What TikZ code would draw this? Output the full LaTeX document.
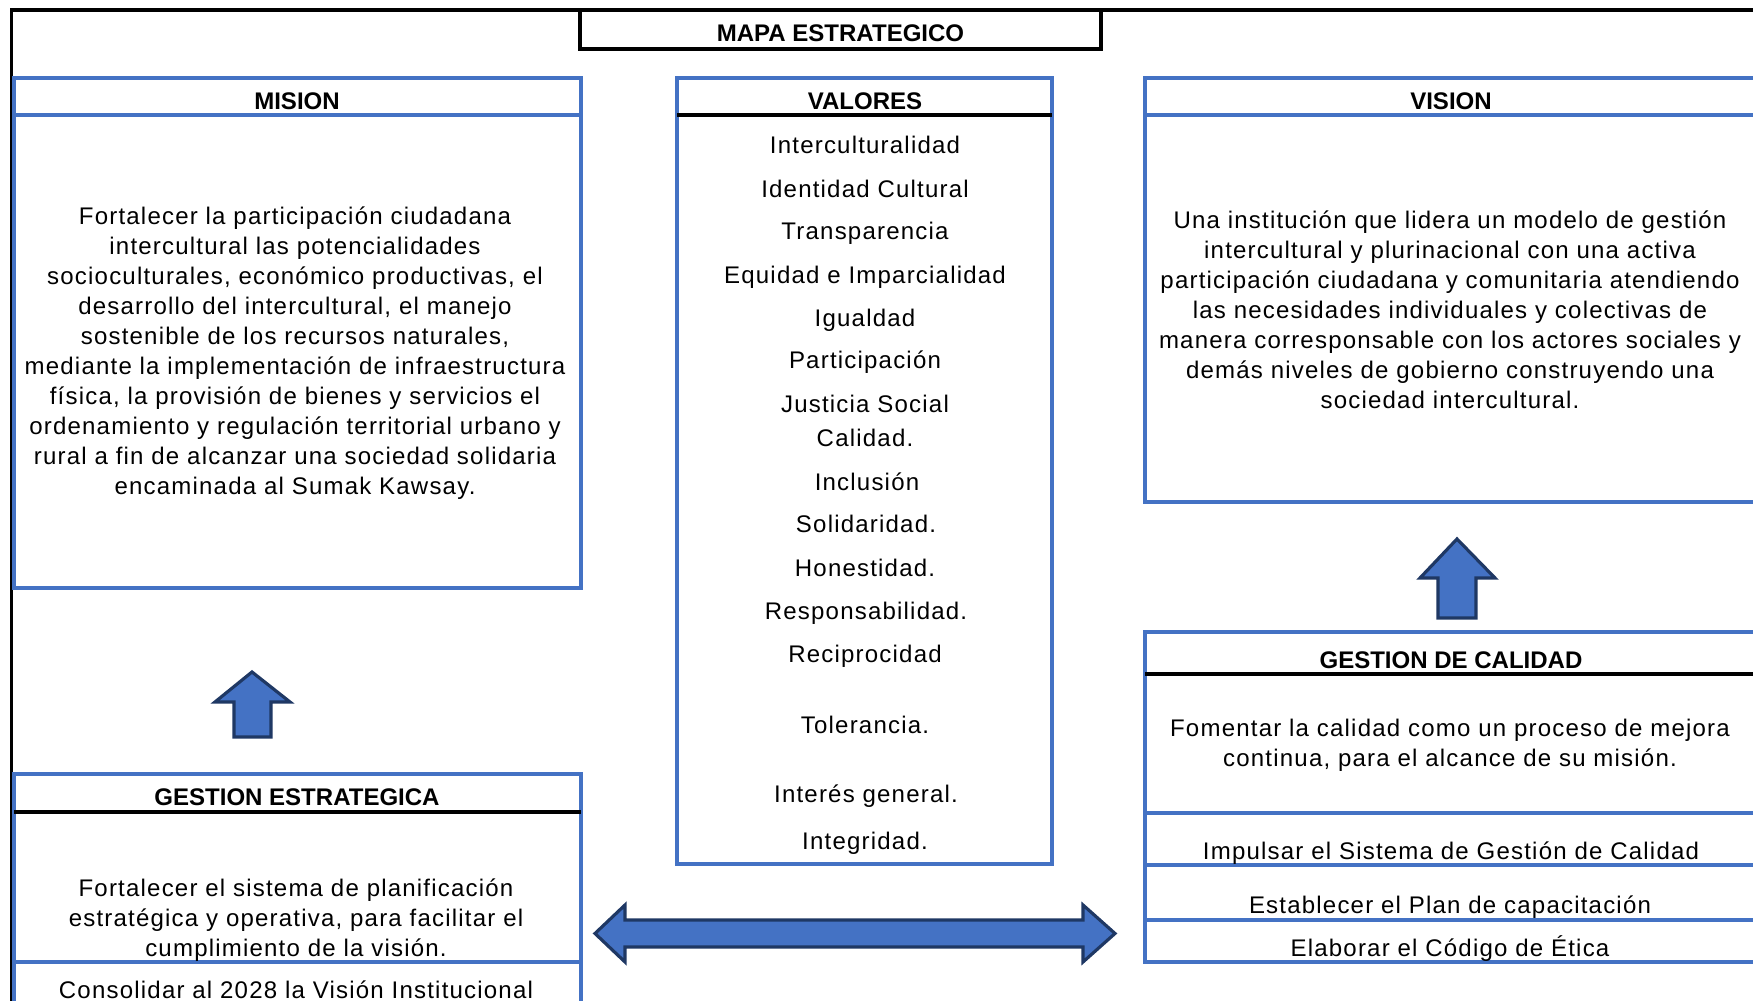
\documentclass[tikz,border=0pt]{standalone}
\usepackage{fontspec}
\setmainfont{Liberation Sans}
\newfontfamily\bodyfont[LetterSpace=5]{Liberation Sans}
\definecolor{cellblue}{HTML}{4472C4}
\definecolor{arrowedge}{HTML}{1F3864}
\begin{document}
\begin{tikzpicture}[x=0.01cm, y=-0.01cm,
  bluebox/.style={draw=cellblue, line width=0.95pt},
  blackrule/.style={draw=black, line width=1pt},
  head/.style={font=\fontsize{6.83}{8.5}\selectfont\bfseries, inner sep=0pt, anchor=base},
  body/.style={font=\bodyfont\fontsize{6.83}{8.54}\selectfont, inner sep=0pt, align=center},
  item/.style={body, anchor=base},
  blockarrow/.style={fill=cellblue, draw=arrowedge, line width=0.9pt, line join=miter}]
\useasboundingbox (0,0) rectangle (1753,1001);
\clip (0,0) rectangle (1753,1001);
\fill[white] (0,0) rectangle (1753,1001);

% outer frame (top and left edges) and title cell
\draw[blackrule] (11.5,1010) -- (11.5,10) -- (1760,10);
\draw[blackrule] (580,10) rectangle (1101,49);
\node[head] (mapa) at (840.5,42) {MAPA ESTRATEGICO};

% MISION
\draw[bluebox] (14,78) rectangle (581,588);
\draw[bluebox] (14,115) -- (581,115);
\node[head] (mision) at (297,110) {MISION};
\node[body] (misiontext) at (295,353.5) {Fortalecer la participación ciudadana\\
intercultural las potencialidades\\
socioculturales, económico productivas, el\\
desarrollo del intercultural, el manejo\\
sostenible de los recursos naturales,\\
mediante la implementación de infraestructura\\
física, la provisión de bienes y servicios el\\
ordenamiento y regulación territorial urbano y\\
rural a fin de alcanzar una sociedad solidaria\\
encaminada al Sumak Kawsay.};

% VALORES
\draw[bluebox] (677,78) rectangle (1052,864);
\draw[blackrule] (677,115) -- (1052,115);
\node[head] (valores) at (865,110) {VALORES};
\node[item] (v1)  at (865,154) {Interculturalidad};
\node[item] (v2)  at (865,198) {Identidad Cultural};
\node[item] (v3)  at (865,240) {Transparencia};
\node[item] (v4)  at (865,284) {Equidad e Imparcialidad};
\node[item] (v5)  at (865,327) {Igualdad};
\node[item] (v6)  at (865,369) {Participación};
\node[item] (v7)  at (865,413) {Justicia Social};
\node[item] (v8)  at (865,447) {Calidad.};
\node[item] (v9)  at (867,491) {Inclusión};
\node[item] (v10) at (866,533) {Solidaridad.};
\node[item] (v11) at (865,577) {Honestidad.};
\node[item] (v12) at (866,620) {Responsabilidad.};
\node[item] (v13) at (865,663) {Reciprocidad};
\node[item] (v14) at (865,734) {Tolerancia.};
\node[item] (v15) at (866,803) {Interés general.};
\node[item] (v16) at (865,850) {Integridad.};

% VISION
\draw[bluebox] (1145,78) rectangle (1780,502);
\draw[bluebox] (1145,115) -- (1780,115);
\node[head] (vision) at (1451,110) {VISION};
\node[body] (visiontext) at (1450,310) {Una institución que lidera un modelo de gestión\\
intercultural y plurinacional con una activa\\
participación ciudadana y comunitaria atendiendo\\
las necesidades individuales y colectivas de\\
manera corresponsable con los actores sociales y\\
demás niveles de gobierno construyendo una\\
sociedad intercultural.};

% GESTION ESTRATEGICA
\draw[bluebox] (14,774) rectangle (581,1020);
\draw[blackrule] (14,812) -- (581,812);
\draw[bluebox] (14,962) -- (581,962);
\node[head] (gestest) at (297,806) {GESTION ESTRATEGICA};
\node[body] (gesttext) at (296,920) {Fortalecer el sistema de planificación\\
estratégica y operativa, para facilitar el\\
cumplimiento de la visión.};
\node[item] (consolidar) at (296,999) {Consolidar al 2028 la Visión Institucional};

% GESTION DE CALIDAD
\draw[bluebox] (1145,632) rectangle (1780,962);
\draw[blackrule] (1145,674) -- (1780,674);
\draw[bluebox] (1145,813) -- (1780,813);
\draw[bluebox] (1145,865) -- (1780,865);
\draw[bluebox] (1145,920) -- (1780,920);
\node[head] (gestcal) at (1451,669) {GESTION DE CALIDAD};
\node[body] (caltext) at (1450,745) {Fomentar la calidad como un proceso de mejora\\
continua, para el alcance de su misión.};
\node[item] (impulsar) at (1451,860) {Impulsar el Sistema de Gestión de Calidad};
\node[item] (establecer) at (1450,914) {Establecer el Plan de capacitación};
\node[item] (elaborar) at (1450,957) {Elaborar el Código de Ética};

% block arrows
\draw[blockarrow] (252,672) -- (290,702) -- (271,702) -- (271,737)
  -- (234,737) -- (234,702) -- (215,702) -- cycle;
\draw[blockarrow] (1457,539) -- (1495,578) -- (1476,578) -- (1476,618)
  -- (1438,618) -- (1438,578) -- (1420,578) -- cycle;
\draw[blockarrow] (595,933.5) -- (625,905) -- (625,920) -- (1083,920)
  -- (1083,905) -- (1115,933.5) -- (1083,962) -- (1083,947)
  -- (625,947) -- (625,962) -- cycle;
\end{tikzpicture}
\end{document}
